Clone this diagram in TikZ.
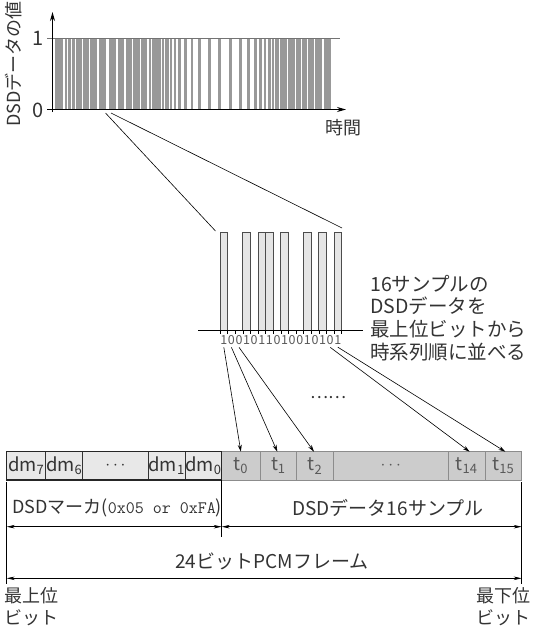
\documentclass[tikz,border=0pt]{standalone}
\usepackage{fontspec}
\setmainfont{Noto Sans CJK JP}
\usetikzlibrary{arrows.meta}
\definecolor{barg}{gray}{0.6}
\definecolor{midfill}{gray}{0.9}
\definecolor{dmfill}{gray}{0.91}
\definecolor{tfill}{gray}{0.8}
\definecolor{txt}{gray}{0.2}
\definecolor{txtg}{gray}{0.35}
\begin{document}
\begin{tikzpicture}[x=1pt,y=-1pt,
  axis/.style={line width=1.3pt, black, -{Stealth[length=9pt,width=5pt]}},
  lbl/.style={inner sep=0pt, text=txt, font=\fontsize{18}{22}\selectfont},
  bignum/.style={inner sep=0pt, text=txt, font=\fontsize{20}{24}\selectfont},
  digit/.style={inner sep=0pt, text=txtg, font=\fontsize{12.5}{14}\selectfont},
  midbar/.style={draw=black!70, line width=0.8pt, fill=midfill},
  dmbox/.style={draw=black!80, line width=0.6pt, fill=dmfill, minimum height=28.3pt, inner sep=0pt, outer sep=0pt, anchor=west, text=txt, font=\fontsize{18.5}{20}\selectfont},
  tbox/.style={draw=black!45, line width=0.6pt, fill=tfill, minimum height=28.3pt, inner sep=0pt, outer sep=0pt, anchor=west, text=txtg, font=\fontsize{18.5}{20}\selectfont},
  conn/.style={line width=0.6pt, black},
  bitarrow/.style={line width=0.6pt, black, -{Stealth[length=7pt,width=4pt]}},
  dim/.style={line width=0.6pt, black, {Stealth[length=8pt,width=3.5pt]}-{Stealth[length=8pt,width=3.5pt]}},
  ext/.style={line width=0.6pt, black}
]
\useasboundingbox (0,0) rectangle (535,629);

% ---------- top chart ----------
\foreach \a/\b in {55/63.3, 64.7/66.7, 67.7/70.7, 71.7/75.3, 76.3/81.7, 83.3/89, 90.3/97.3, 99/106, 109.3/116, 117.7/124, 125.7/132, 133.3/140.3, 141.3/146.7, 149/151, 152.3/161, 162.3/164, 165/169, 170/171.7, 174/176, 178.3/180.7, 184/186.7, 190.7/192.7, 197.7/200.7, 207.7/210.7, 217.7/220.7, 229/231.7, 239/241.7, 246.7/250, 254/257.3, 259.3/261.7, 264/266, 267.7/270.7, 271.7/274.3, 275/276.7, 277.3/279, 280/282.7, 283.3/286.7, 288.3/291.7, 292.3/295, 296/300.7, 301.7/306.7, 308.3/314, 315.3/322, 324/330.7}
  \fill[barg] (\a,38) rectangle (\b,109.5);

\coordinate (oneL) at (47,38);
\coordinate (oneR) at (340,38);
\draw[black!55, line width=1pt] (oneL) -- (oneR);

\coordinate (yb) at (52.5,112);
\coordinate (yt) at (52.5,12);
\coordinate (xl) at (47,109.5);
\coordinate (xr) at (346,109.5);
\draw[axis] (yb) -- (yt);
\draw[axis] (xl) -- (xr);

\node[bignum] (one) at (38,38) {1};
\node[bignum] (zero) at (38,110) {0};
\node[lbl, rotate=90] (ylab) at (14,64) {DSDデータの値};
\node[lbl, anchor=west] (time) at (325,128) {時間};

% ---------- zoom lines ----------
\coordinate (z1) at (105.5,113);
\coordinate (z2) at (111,113);
\coordinate (m1) at (215.5,231);
\coordinate (m2) at (342,228);
\draw[conn] (z1) -- (m1);
\draw[conn] (z2) -- (m2);

% ---------- middle bars ----------
\foreach \i in {0,3,5,6,8,11,13,15}
  \draw[midbar] ({220+7.6*\i},232.7) rectangle ({227.6+7.6*\i},330.7);
\coordinate (bl) at (198,330.7);
\coordinate (br) at (363,330.7);
\draw[line width=1.3pt, black] (bl) -- (br);
\foreach \k in {0,...,16}
  \draw[line width=0.6pt, black] ({220+7.6*\k},330.7) -- ++(0,3.5);
\foreach \b [count=\i from 0] in {1,0,0,1,0,1,1,0,1,0,0,1,0,1,0,1}
  \node[digit] (d\i) at ({223.8+7.6*\i},340.5) {\b};

\node[lbl, anchor=west, align=left, font=\fontsize{19.5}{22.6}\selectfont] (desc) at (370,318)
  {16サンプルの\\DSDデータを\\最上位ビットから\\時系列順に並べる};

\node[lbl, font=\fontsize{17}{20}\selectfont] (dots) at (328,398) {……};

% ---------- bottom boxes ----------
\node[dmbox, minimum width=39pt] (dm7) at (6.7,465.85) {dm\textsubscript{7}};
\node[dmbox, minimum width=37pt] (dm6) at (45.7,465.85) {dm\textsubscript{6}};
\node[dmbox, minimum width=65.6pt] (dmx) at (82.7,465.85) {$\cdots$};
\node[dmbox, minimum width=36.7pt] (dm1) at (148.3,465.85) {dm\textsubscript{1}};
\node[dmbox, minimum width=36.7pt] (dm0) at (185,465.85) {dm\textsubscript{0}};
\node[tbox, minimum width=38.3pt] (t0) at (221.7,465.85) {t\textsubscript{0}};
\node[tbox, minimum width=36.7pt] (t1) at (260,465.85) {t\textsubscript{1}};
\node[tbox, minimum width=36.6pt] (t2) at (296.7,465.85) {t\textsubscript{2}};
\node[tbox, minimum width=115pt] (tx) at (333.3,465.85) {$\cdots$};
\node[tbox, minimum width=36.7pt] (t14) at (448.3,465.85) {t\textsubscript{14}};
\node[tbox, minimum width=36.7pt] (t15) at (485,465.85) {t\textsubscript{15}};
\draw[line width=1.5pt, black!85] (dm7.north west) rectangle (dm0.south east);

% ---------- bit arrows ----------
\draw[bitarrow] ([yshift=-2pt]d0.south) -- (t0.north);
\draw[bitarrow] ([yshift=-2pt]d1.south) -- ([xshift=-1pt]t1.north);
\draw[bitarrow] ([yshift=-2pt]d2.south) -- ([xshift=-1pt]t2.north);
\draw[bitarrow] ([yshift=-2pt]d14.south) -- ([xshift=3pt]t14.north);
\draw[bitarrow] ([yshift=-2pt]d15.south) -- ([xshift=2pt]t15.north);

% ---------- dimensions ----------
\coordinate (L0) at (6.7,482);
\coordinate (L1) at (6.7,584);
\coordinate (M0) at (221.7,480);
\coordinate (M1) at (221.7,537);
\coordinate (R0) at (521.7,482);
\coordinate (R1) at (521.7,584);
\draw[ext] (L0) -- (L1);
\draw[ext] (M0) -- (M1);
\draw[ext] (R0) -- (R1);
\coordinate (A1) at (6.7,526.7);
\coordinate (A2) at (221.7,526.7);
\coordinate (A3) at (521.7,526.7);
\coordinate (B1) at (6.7,578.3);
\coordinate (B2) at (521.7,578.3);
\draw[dim] (A1) -- (A2);
\draw[dim] (A2) -- (A3);
\draw[dim] (B1) -- (B2);

\node[lbl, anchor=west] (marker) at (12,508) {DSDマーカ(\fontsize{17.5}{20}\selectfont\ttfamily 0x05 or 0xFA\rmfamily\fontsize{18}{22}\selectfont)};
\node[lbl, font=\fontsize{19}{22}\selectfont] (data16) at (388,508) {DSDデータ16サンプル};
\node[lbl, font=\fontsize{19}{22}\selectfont] (frame) at (272,561) {24ビットPCMフレーム};
\node[lbl, anchor=north west, align=left, font=\fontsize{18}{22}\selectfont] (msb) at (4,587) {最上位\\ビット};
\node[lbl, anchor=north east, align=right, font=\fontsize{18}{22}\selectfont] (lsb) at (531,587) {最下位\\ビット};
\end{tikzpicture}
\end{document}
